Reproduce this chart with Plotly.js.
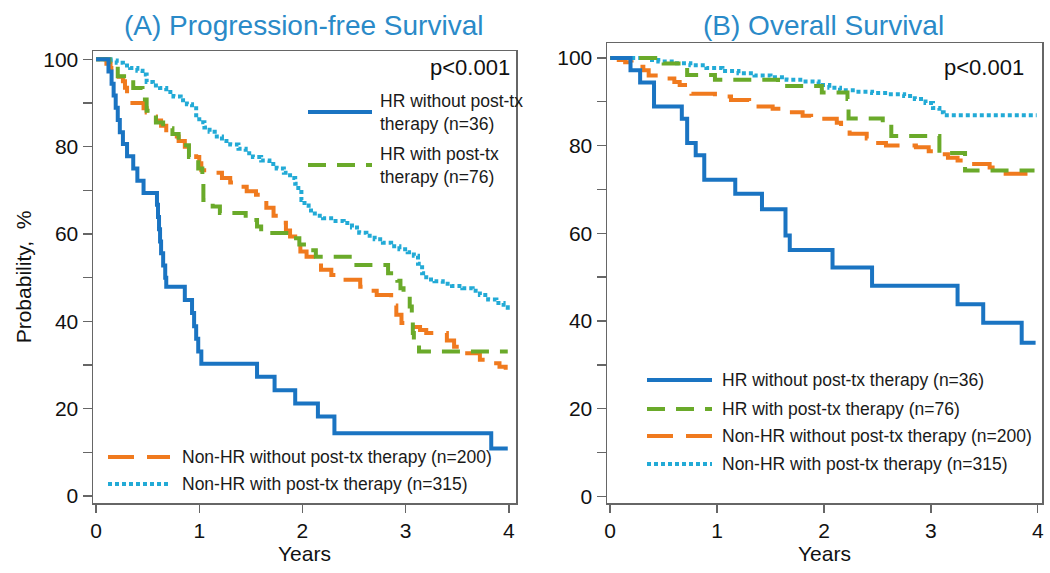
<!DOCTYPE html>
<html>
<head>
<meta charset="utf-8">
<script src="https://cdn.plot.ly/plotly-3.0.1.min.js"></script>
<style>
  body { margin: 0; background: #fff; }
  #chart { width: 1050px; height: 573px; }
</style>
</head>
<body>
<div id="chart"></div>
<script>
// group labels
const groupNames = [
  'HR without post-tx therapy (n=36)',
  'HR with post-tx therapy (n=76)',
  'Non-HR without post-tx therapy (n=200)',
  'Non-HR with post-tx therapy (n=315)'
];
const groupNamesWrapped = [
  'HR without post-tx<br>therapy (n=36)',
  'HR with post-tx<br>therapy (n=76)'
];
const panelTitles = ['(A) Progression-free Survival', '(B) Overall Survival'];
const pValues = ['p<0.001', 'p<0.001'];
const yearTicks = [0, 1, 2, 3, 4];

// (A) progression-free survival, years / %
const pfsHrNoT = [0, 0.12, 0.15, 0.17, 0.19, 0.21, 0.23, 0.26, 0.30, 0.36, 0.40, 0.46, 0.59, 0.60, 0.61, 0.62, 0.63, 0.65, 0.67, 0.68, 0.86, 0.93, 0.95, 0.97, 0.99, 1.02, 1.56, 1.73, 1.93, 2.15, 2.31, 3.83, 3.99];
const pfsHrNoV = [100, 97.2, 94.4, 91.7, 88.9, 86.1, 83.3, 80.6, 77.8, 75.0, 72.2, 69.4, 66.7, 63.9, 61.1, 58.3, 55.6, 52.8, 50.0, 47.9, 44.9, 41.9, 38.9, 36.0, 33.1, 30.3, 27.3, 24.2, 21.2, 18.2, 14.4, 10.9, 10.9];

const pfsHrYesT = [0, 0.13, 0.21, 0.36, 0.45, 0.49, 0.58, 0.65, 0.74, 0.80, 0.90, 0.99, 1.03, 1.04, 1.13, 1.20, 1.45, 1.56, 1.60, 1.88, 1.97, 2.08, 2.13, 2.48, 2.83, 2.92, 2.95, 2.98, 3.04, 3.06, 3.07, 3.08, 3.13, 3.99];
const pfsHrYesV = [100, 98.7, 96.1, 93.4, 90.8, 88.2, 85.5, 84.2, 82.9, 80.3, 77.6, 75.0, 72.4, 67.8, 66.3, 64.8, 63.2, 61.7, 60.2, 59.0, 57.6, 56.3, 54.8, 52.9, 51.0, 49.3, 47.6, 46.0, 43.4, 40.3, 37.3, 35.0, 33.1, 33.1];

const pfsNonNoT = [0, 0.10, 0.14, 0.18, 0.22, 0.26, 0.28, 0.30, 0.32, 0.46, 0.49, 0.53, 0.58, 0.63, 0.68, 0.74, 0.80, 0.86, 0.92, 0.97, 1.00, 1.02, 1.12, 1.22, 1.30, 1.38, 1.46, 1.55, 1.60, 1.65, 1.72, 1.78, 1.84, 1.88, 1.93, 1.98, 2.04, 2.10, 2.18, 2.28, 2.38, 2.56, 2.64, 2.72, 2.86, 2.91, 2.96, 3.07, 3.14, 3.20, 3.40, 3.47, 3.55, 3.72, 3.82, 3.91, 3.97];
const pfsNonNoV = [100, 99.0, 98.0, 97.0, 96.0, 95.0, 93.5, 92.0, 90.0, 88.8, 87.8, 86.9, 86.0, 84.8, 83.3, 82.3, 81.3, 80.0, 78.7, 77.6, 76.2, 74.6, 74.0, 72.8, 71.8, 70.8, 69.8, 69.0, 67.8, 66.0, 64.2, 62.6, 60.8, 59.4, 58.0, 56.0, 54.8, 53.3, 51.8, 50.6, 49.5, 47.9, 47.0, 46.0, 43.6, 41.5, 39.6, 38.7, 38.0, 37.3, 35.6, 34.2, 32.7, 31.2, 30.4, 29.6, 28.9];

const pfsNonYesT = [0, 0.14, 0.2, 0.26, 0.33, 0.4, 0.45, 0.49, 0.55, 0.62, 0.68, 0.75, 0.82, 0.88, 0.93, 0.97, 1.0, 1.05, 1.1, 1.15, 1.22, 1.3, 1.38, 1.45, 1.52, 1.6, 1.68, 1.75, 1.82, 1.88, 1.93, 1.96, 1.99, 2.02, 2.06, 2.12, 2.2, 2.3, 2.4, 2.48, 2.55, 2.62, 2.7, 2.78, 2.86, 2.94, 3.02, 3.08, 3.12, 3.16, 3.2, 3.28, 3.36, 3.45, 3.55, 3.65, 3.72, 3.8, 3.88, 3.95, 3.99];
const pfsNonYesV = [100, 99.7, 99.2, 98.6, 98.0, 97.4, 96.5, 94.8, 94.0, 93.4, 92.5, 91.5, 90.6, 89.7, 88.8, 87.2, 85.6, 84.4, 83.4, 82.3, 81.3, 80.5, 79.5, 78.5, 77.6, 76.8, 76.0, 75.0, 74.0, 72.8, 71.5, 69.6, 67.8, 66.5, 65.4, 64.2, 63.6, 63.0, 62.5, 61.5, 60.3, 59.6, 58.8, 58.0, 57.2, 56.5, 55.8, 55.0, 53.2, 51.0, 49.6, 49.2, 48.6, 48.1, 47.6, 47.0, 46.0, 45.0, 44.2, 43.2, 42.6];

// (B) overall survival, years / %
const osHrNoT = [0, 0.19, 0.28, 0.41, 0.67, 0.72, 0.80, 0.88, 1.17, 1.42, 1.64, 1.68, 2.08, 2.45, 3.25, 3.49, 3.85, 3.98];
const osHrNoV = [100, 97.2, 94.4, 88.9, 86.1, 80.6, 77.8, 72.2, 69.0, 65.5, 59.5, 56.2, 52.2, 48.0, 43.8, 39.6, 35.0, 35.0];

const osHrYesT = [0, 0.50, 0.72, 0.98, 1.57, 1.98, 2.22, 2.23, 2.55, 2.63, 3.08, 3.32, 3.97];
const osHrYesV = [100, 98.7, 96.1, 95.0, 93.6, 92.1, 90.6, 86.2, 84.8, 82.2, 78.3, 74.3, 74.3];

const osNonNoT = [0, 0.08, 0.14, 0.2, 0.26, 0.31, 0.36, 0.5, 0.6, 0.65, 0.7, 0.76, 0.98, 1.13, 1.3, 1.36, 1.52, 1.7, 1.8, 1.88, 2.12, 2.16, 2.2, 2.24, 2.4, 2.46, 2.58, 2.86, 2.98, 3.06, 3.16, 3.25, 3.3, 3.55, 3.62, 3.7, 3.98];
const osNonNoV = [100, 99.5, 99.0, 98.5, 98.0, 97.2, 96.0, 95.3, 94.5, 93.8, 93.0, 91.8, 91.2, 90.4, 89.6, 88.9, 88.4, 87.6, 86.8, 86.1, 85.2, 84.3, 83.5, 82.7, 81.6, 80.6, 80.0, 79.6, 78.7, 78.0, 77.2, 76.6, 75.8, 75.0, 74.2, 73.6, 73.3];

const osNonYesT = [0, 0.35, 0.45, 0.6, 0.75, 0.9, 1.05, 1.2, 1.35, 1.5, 1.65, 1.8, 1.95, 2.05, 2.15, 2.3, 2.45, 2.6, 2.75, 2.85, 2.95, 3.02, 3.08, 3.12, 3.99];
const osNonYesV = [100, 99.5, 99.2, 98.8, 98.3, 97.7, 97.0, 96.5, 96.0, 95.6, 95.0, 94.6, 93.8, 93.2, 92.6, 92.3, 92.0, 91.7, 91.3, 90.6, 89.7, 88.6, 87.6, 86.9, 86.9];

const W = 1050, H = 573;
const FONT = 'Liberation Sans, Arial, sans-serif';
const styles = [
  { color: '#1a74c2', width: 4, dash: 'solid' },
  { color: '#6aaa2a', width: 4, dash: '18px,11px' },
  { color: '#f07a1e', width: 4, dash: '26px,13px' },
  { color: '#22aad6', width: 4, dash: '4px,3px' }
];

function km(t, v, i, xa, ya) {
  return {
    x: t, y: v, xaxis: xa, yaxis: ya,
    type: 'scatter', mode: 'lines', name: groupNames[i],
    line: { shape: 'hv', color: styles[i].color, width: styles[i].width, dash: styles[i].dash },
    showlegend: false, hoverinfo: 'skip'
  };
}

const traces = [
  km(pfsNonYesT, pfsNonYesV, 3, 'x', 'y'),
  km(pfsNonNoT, pfsNonNoV, 2, 'x', 'y'),
  km(pfsHrYesT, pfsHrYesV, 1, 'x', 'y'),
  km(pfsHrNoT, pfsHrNoV, 0, 'x', 'y'),
  km(osNonYesT, osNonYesV, 3, 'x2', 'y2'),
  km(osNonNoT, osNonNoV, 2, 'x2', 'y2'),
  km(osHrYesT, osHrYesV, 1, 'x2', 'y2'),
  km(osHrNoT, osHrNoV, 0, 'x2', 'y2')
];

// legend keys drawn as paper shapes + text
const px = v => v / W;
const py = v => 1 - v / H;
const shapes = [];
const annotations = [];
function legendItem(i, text, x0, x1, yc, tx) {
  shapes.push({
    type: 'line', xref: 'paper', yref: 'paper',
    x0: px(x0), x1: px(x1), y0: py(yc), y1: py(yc),
    line: { color: styles[i].color, width: styles[i].width, dash: styles[i].dash }
  });
  annotations.push({
    xref: 'paper', yref: 'paper', x: px(tx), y: py(yc),
    xanchor: 'left', yanchor: 'middle', align: 'left', showarrow: false,
    text: text, font: { family: FONT, size: 17.5, color: '#1a1a1a' }
  });
}
legendItem(0, groupNamesWrapped[0], 308, 372, 112, 378);
legendItem(1, groupNamesWrapped[1], 308, 372, 165, 378);
legendItem(2, groupNames[2], 108, 170, 457, 180);
legendItem(3, groupNames[3], 108, 170, 484, 180);
[380, 409, 436, 464].forEach((yc, i) => legendItem(i, groupNames[i], 647, 712, yc, 720));

annotations.push(
  { xref: 'paper', yref: 'paper', x: px(303), y: py(25), xanchor: 'center', yanchor: 'middle',
    showarrow: false, text: panelTitles[0], font: { family: FONT, size: 28, color: '#2a8ac8' } },
  { xref: 'paper', yref: 'paper', x: px(823), y: py(25), xanchor: 'center', yanchor: 'middle',
    showarrow: false, text: panelTitles[1], font: { family: FONT, size: 28, color: '#2a8ac8' } },
  { xref: 'paper', yref: 'paper', x: px(512), y: py(68), xanchor: 'right', yanchor: 'middle',
    showarrow: false, text: pValues[0], font: { family: FONT, size: 22, color: '#111' } },
  { xref: 'paper', yref: 'paper', x: px(1026), y: py(68), xanchor: 'right', yanchor: 'middle',
    showarrow: false, text: pValues[1], font: { family: FONT, size: 22, color: '#111' } }
);

const axisBase = {
  showline: true, mirror: true, linecolor: '#666', linewidth: 1.5,
  showgrid: false, zeroline: false,
  ticks: 'outside', ticklen: 8, tickwidth: 1.5, tickcolor: '#666',
  tickfont: { family: FONT, size: 21, color: '#111' }
};
const xBase = Object.assign({}, axisBase, {
  tickvals: yearTicks, ticktext: yearTicks.map(String),
  title: { text: 'Years', font: { family: FONT, size: 21, color: '#111' }, standoff: 4 }
});
const yBase = Object.assign({}, axisBase, {
  tick0: 0, dtick: 20, ticklen: 9,
  minor: { dtick: 10, ticks: 'outside', ticklen: 9, tickwidth: 1.5, tickcolor: '#666' }
});

const layout = {
  width: W, height: H,
  margin: { l: 0, r: 0, t: 0, b: 0 },
  paper_bgcolor: '#fff', plot_bgcolor: '#fff',
  font: { family: FONT, color: '#111' },
  showlegend: false,
  xaxis: Object.assign({}, xBase, { domain: [93 / W, 516 / W], range: [-0.03, 4.07], anchor: 'y' }),
  yaxis: Object.assign({}, yBase, {
    domain: [1 - 503 / H, 1 - 51 / H], range: [-1.6, 101.9], anchor: 'x',
    title: { text: 'Probability,  %', font: { family: FONT, size: 21, color: '#111' }, standoff: 6 }
  }),
  xaxis2: Object.assign({}, xBase, { domain: [607 / W, 1042 / W], range: [-0.03, 4.04], anchor: 'y2' }),
  yaxis2: Object.assign({}, yBase, { domain: [1 - 503 / H, 1 - 43 / H], range: [-1.53, 103.4], anchor: 'x2' }),
  shapes: shapes,
  annotations: annotations
};

Plotly.newPlot('chart', traces, layout, { staticPlot: true });
</script>
</body>
</html>
